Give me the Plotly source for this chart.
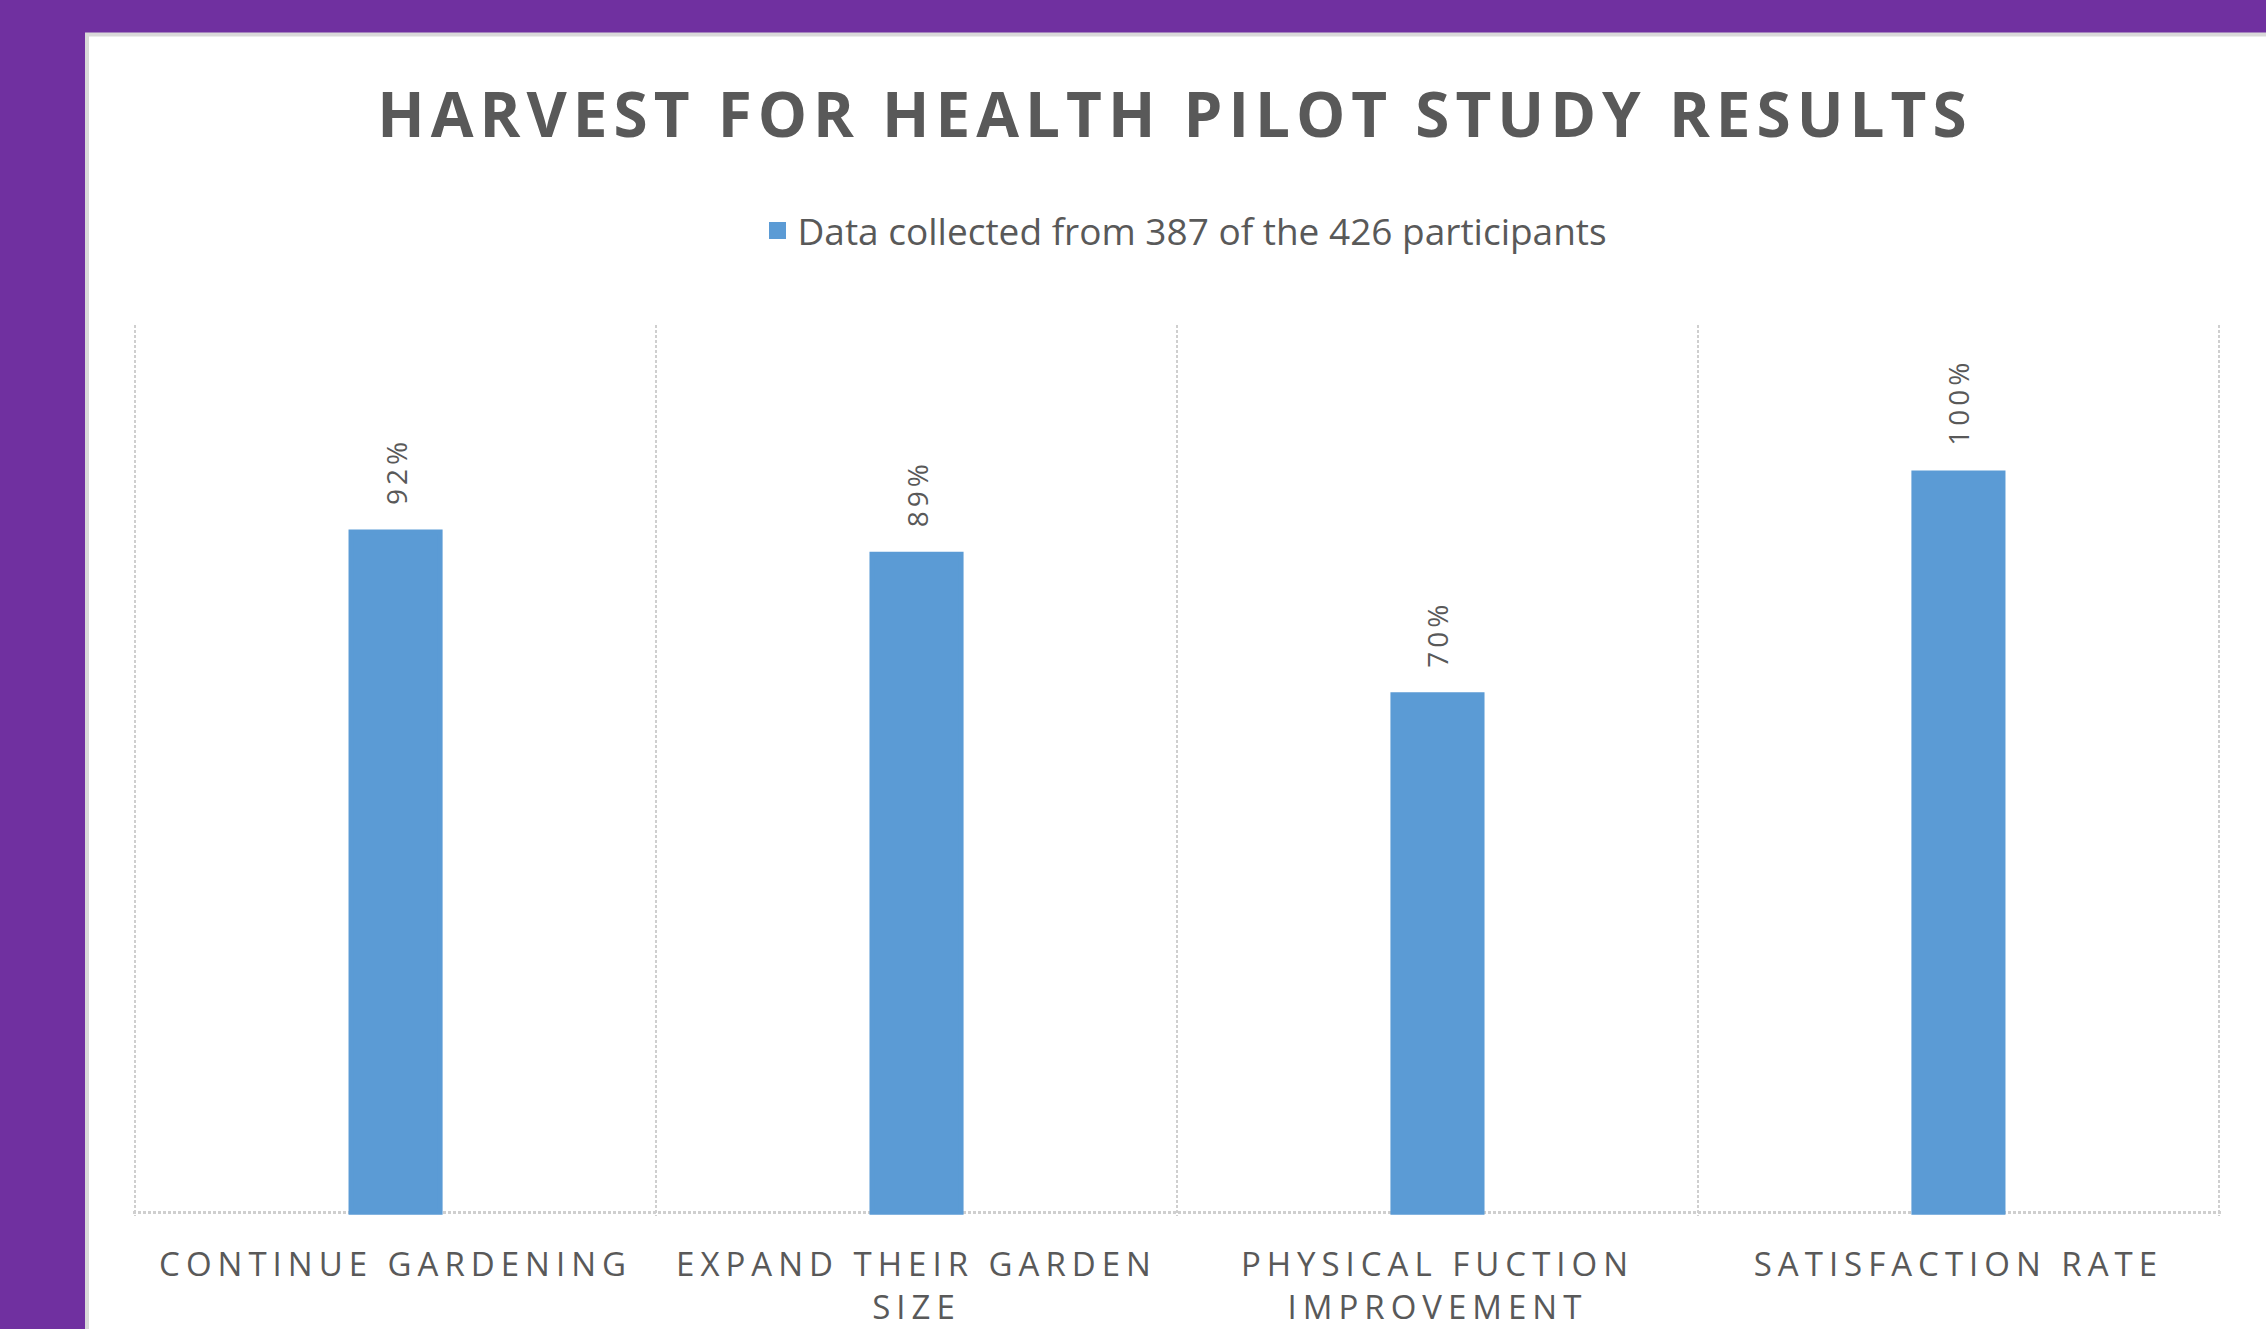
import plotly.graph_objects as go

categories = ["CONTINUE GARDENING", "EXPAND THEIR GARDEN SIZE",
              "PHYSICAL FUCTION IMPROVEMENT", "SATISFACTION RATE"]
tick_labels = ["CONTINUE GARDENING", "EXPAND THEIR GARDEN<br>SIZE",
               "PHYSICAL FUCTION<br>IMPROVEMENT", "SATISFACTION RATE"]
values = [92, 89, 70, 100]
series_name = "Data collected from 387 of the 426 participants"
title_text = "HARVEST FOR HEALTH PILOT STUDY RESULTS"

W, H = 2266, 1329
ML, MR, MT, MB = 133, 45, 325, 113
PW, PH = W - ML - MR, H - MT - MB

GRAY = "#595959"
BLUE = "#5b9bd5"
PURPLE = "#7030a0"
GRID = "#cfcfcf"
FONT = "Open Sans"


def sp(text, ls):
    parts = text.split("<br>")
    return "<br>".join(f"<span style='letter-spacing:{ls}px'>{p}</span>" for p in parts)


def px_to_paper_x(px):
    return (px - ML) / PW


def px_to_paper_y(py):
    return (H - MB - py) / PH


fig = go.Figure()
fig.add_trace(go.Bar(
    x=categories, y=values, name=series_name,
    marker=dict(color=BLUE, line=dict(color=BLUE, width=5)),
    width=0.171, showlegend=True,
))

for c, v in zip(categories, values):
    fig.add_annotation(
        x=c, y=v, xref="x", yref="y", text=sp(f"{v}%", 4),
        textangle=-90, showarrow=False, yanchor="bottom", xanchor="center",
        yshift=25, font=dict(family=FONT, size=28, color=GRAY),
    )

# white panel with light border over the purple page
fig.add_shape(
    type="rect", xref="paper", yref="paper", layer="below",
    x0=px_to_paper_x(87), x1=px_to_paper_x(2300),
    y0=px_to_paper_y(1360), y1=px_to_paper_y(34.5),
    fillcolor="white", line=dict(color="#d9d9d9", width=4),
)

fig.update_layout(
    width=W, height=H,
    margin=dict(l=ML, r=MR, t=MT, b=MB, pad=0, autoexpand=False),
    paper_bgcolor=PURPLE, plot_bgcolor="white",
    font=dict(family=FONT, color=GRAY),
    title=dict(
        text=f"<b>{sp(title_text, 6)}</b>",
        x=px_to_paper_x(1175), xref="paper", xanchor="center",
        y=1 - 115 / H, yref="container", yanchor="middle",
        font=dict(family=FONT, size=62, color=GRAY),
    ),
    legend=dict(
        orientation="h", x=px_to_paper_x(1185), xanchor="center",
        y=px_to_paper_y(231), yanchor="middle",
        font=dict(family=FONT, size=37, color=GRAY), bgcolor="rgba(0,0,0,0)",
    ),
    xaxis=dict(
        type="category", range=[-0.504, 3.504], tickson="boundaries",
        showgrid=True, gridcolor=GRID, gridwidth=2, griddash="3px,2px",
        showline=False, zeroline=False, ticks="", ticklen=0,
        tickmode="array", tickvals=categories,
        ticktext=[sp(t, 6) for t in tick_labels],
        tickangle=0, ticklabelstandoff=26, automargin=False,
        tickfont=dict(family=FONT, size=33, color=GRAY),
    ),
    yaxis=dict(
        range=[-0.5, 120], showgrid=True, tickmode="array", tickvals=[0],
        gridcolor=GRID, gridwidth=3, griddash="3px,2px", automargin=False,
        zeroline=False, showline=False, showticklabels=False, ticks="",
    ),
)

fig.write_html("out.html", config={"displayModeBar": False},
               post_script="document.body.style.margin='0px';")
